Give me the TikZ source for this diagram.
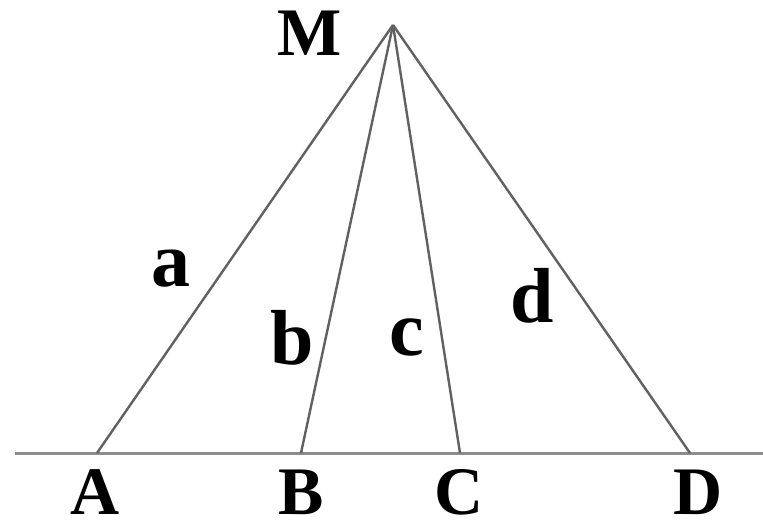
\documentclass[tikz,border=0pt]{standalone}
\usepackage{fontspec}
\setmainfont{Liberation Serif}
\usepackage{tikz}
\usetikzlibrary{positioning, calc}

\begin{document}
\begin{tikzpicture}[
    x=1pt, y=-1pt,
    baseline/.style={draw=black!45, line width=3pt},
    ray/.style={draw=black!62, line width=2.4pt},
    ptlabel/.style={font=\fontsize{68}{74}\selectfont\bfseries, inner sep=0pt},
    seglabel/.style={font=\fontsize{78}{84}\selectfont\bfseries, inner sep=0pt}
  ]
  \useasboundingbox (0,0) rectangle (763,527);
  % points on the line and the apex
  \coordinate (M) at (393,25);
  \coordinate (A) at (97,453);
  \coordinate (B) at (301,453);
  \coordinate (C) at (460,453);
  \coordinate (D) at (690,453);
  \coordinate (left)  at (15,453);
  \coordinate (right) at (763,453);

  \draw[baseline] (left) -- (right);
  \draw[ray] (M) -- (A);
  \draw[ray] (M) -- (B);
  \draw[ray] (M) -- (C);
  \draw[ray] (M) -- (D);

  % point names
  \node[ptlabel] (lblM) at (310,33)  {M};
  \node[ptlabel] (lblA) at (95,492)  {A};
  \node[ptlabel] (lblB) at (301,492) {B};
  \node[ptlabel] (lblC) at (459,492) {C};
  \node[ptlabel] (lblD) at (698,492) {D};
  % segment names
  \node[seglabel] (lbla) at (171,269) {a};
  \node[seglabel] (lblb) at (292,338) {b};
  \node[seglabel] (lblc) at (407,337) {c};
  \node[seglabel] (lbld) at (532,296) {d};
\end{tikzpicture}
\end{document}
